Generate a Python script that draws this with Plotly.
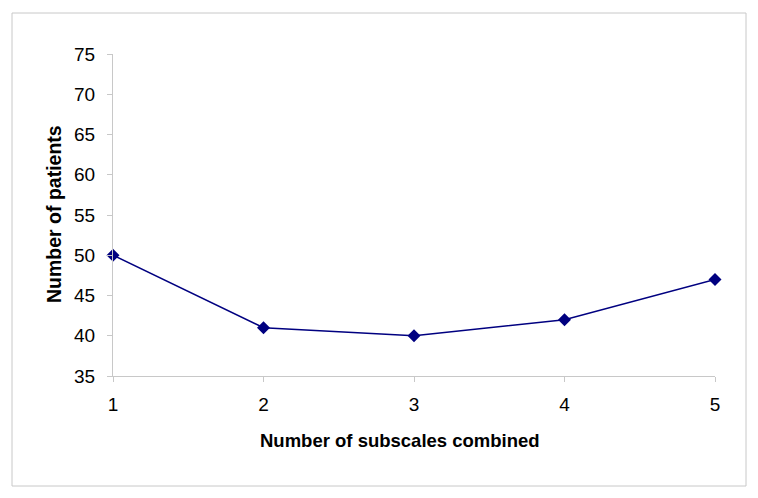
import plotly.graph_objects as go

subscales = [1, 2, 3, 4, 5]
patients = [50, 41, 40, 42, 47]
y_ticks = [35, 40, 45, 50, 55, 60, 65, 70, 75]

fig = go.Figure()
fig.add_trace(go.Scatter(
    x=subscales, y=patients, mode='lines+markers',
    line=dict(color='#000080', width=1.5),
    marker=dict(symbol='diamond', size=10, color='#000080'),
    cliponaxis=False, showlegend=False,
))

# page body has an 8px margin, so work in shifted coordinates
OFF = 8
L, R, T, B = 113 - OFF, 715 - OFF, 54 - OFF, 376 - OFF
W, H = 758 - OFF, 498 - OFF
pw, ph = R - L, B - T

def px(x):
    return (x - OFF - L) / pw

def py(y):
    return (B - (y - OFF)) / ph

# outer chart border
fig.add_shape(type='rect', xref='paper', yref='paper',
              x0=px(12), x1=px(746), y0=py(13), y1=py(486),
              line=dict(color='#c8c8c8', width=1), layer='below')

# axis titles as annotations for exact placement
fig.add_annotation(text='<b>Number of subscales combined</b>', xref='paper', yref='paper',
                   x=px(400), y=py(441), xanchor='center', yanchor='middle',
                   showarrow=False, font=dict(size=18.5))
fig.add_annotation(text='<b>Number of patients</b>', xref='paper', yref='paper',
                   x=px(54), y=py(214), xanchor='center', yanchor='middle',
                   showarrow=False, textangle=-90, font=dict(size=19.5))

font = 'Liberation Sans, Arial, sans-serif'
fig.update_layout(
    width=W, height=H,
    margin=dict(l=L, r=W - R, t=T, b=H - B),
    paper_bgcolor='white', plot_bgcolor='white',
    font=dict(family=font, size=19, color='black'),
    xaxis=dict(
        range=[1, 5], tickvals=subscales, showgrid=False, zeroline=False,
        showline=True, linecolor='#c8c8c8', linewidth=1,
        ticks='outside', ticklen=5, tickcolor='#c8c8c8', ticklabelstandoff=6,
    ),
    yaxis=dict(
        range=[35, 75], tickvals=y_ticks, showgrid=False, zeroline=False,
        showline=True, linecolor='#c8c8c8', linewidth=1,
        ticks='outside', ticklen=5, tickcolor='#c8c8c8', ticklabelstandoff=8,
    ),
)

fig.write_html("out.html")
